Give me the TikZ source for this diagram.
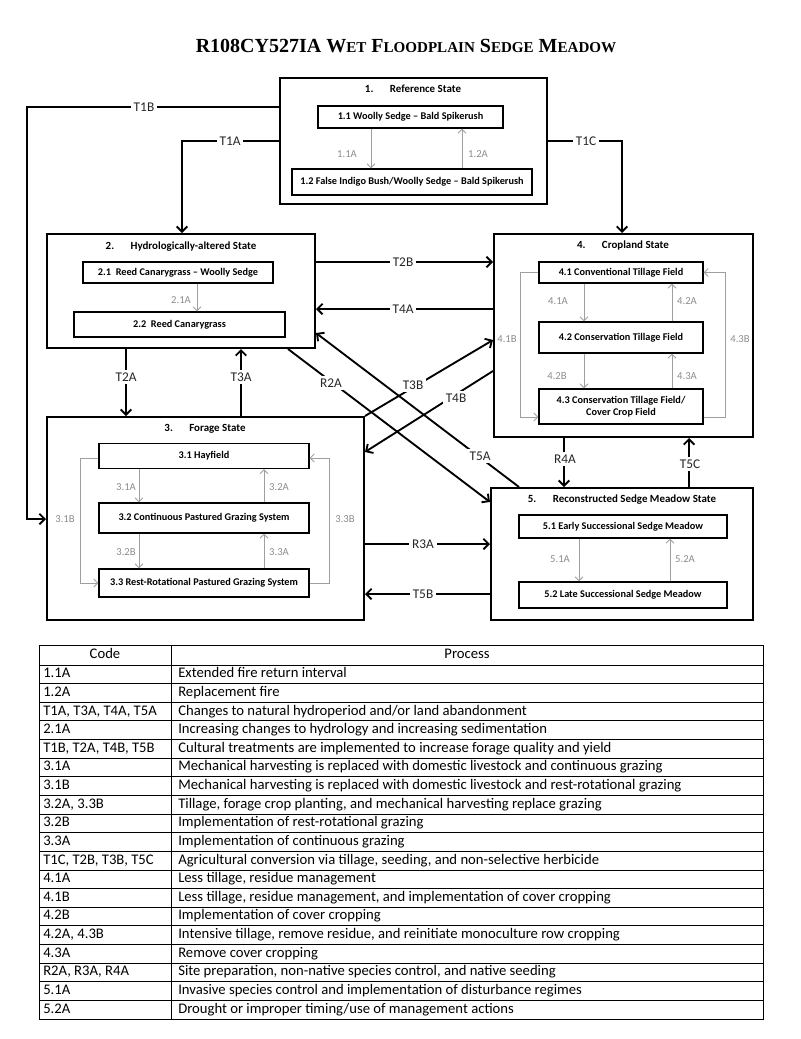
\documentclass[tikz,border=0pt]{standalone}
\usepackage{fontspec}
\setmainfont{Carlito}
\newfontfamily\titlefont{Liberation Serif}
\usetikzlibrary{arrows.meta}
\newcommand{\pxu}{0.75pt}
\newcommand{\smc}[1]{{\fontsize{11.3}{13}\selectfont #1}}
\newcommand{\stbox}[5]{\node[statebox,minimum width=#4*\pxu,minimum height=#5*\pxu] (#1) at (#2,#3) {};}
\newcommand{\subbox}[6]{\node[subbox,minimum width=#4*\pxu,minimum height=#5*\pxu] (#1) at (#2,#3) {#6};}
\tikzset{
  statebox/.style={draw,line width=1.5pt,inner sep=0pt},
  subbox/.style={draw,line width=1pt,inner sep=1pt,align=center,font=\fontsize{7.7}{9}\selectfont\bfseries},
  sttitle/.style={inner sep=0pt,font=\fontsize{8.2}{10}\selectfont\bfseries},
  trans/.style={line width=1.4pt,-{Straight Barb[length=4pt,width=8pt]}},
  inarrow/.style={gray!75,line width=0.6pt,-{Straight Barb[length=3pt,width=6pt]}},
  tlabel/.style={fill=white,inner sep=2pt,font=\fontsize{10}{12}\selectfont,text=black!85},
  ilabel/.style={inner sep=1pt,font=\fontsize{8}{10}\selectfont,text=gray!90},
  cell/.style={anchor=west,inner sep=0pt,text height=7.6pt,text depth=2.4pt,font=\fontsize{11}{13}\selectfont}
}

\begin{document}
\begin{tikzpicture}[x=0.75pt,y=-0.75pt]
    \useasboundingbox (0,0) rectangle (800,1039);
    \node (title) at (406,46) {\titlefont\bfseries\fontsize{15}{18}\selectfont R108CY527IA W\smc{ET} F\smc{LOODPLAIN} S\smc{EDGE} M\smc{EADOW}};

      \stbox{s1}{413.5}{141}{267}{126}
      \stbox{s2}{181}{291}{268}{114}
      \stbox{s3}{205.5}{518.5}{317}{203}
      \stbox{s4}{623.5}{335.5}{259}{203}
      \stbox{s5}{622}{554}{262}{132}

      \node[sttitle] (t1) at (413,89) {1.\hspace{1.5em}Reference State};
      \node[sttitle] (t2) at (181,247) {2.\hspace{1.5em}Hydrologically-altered State};
      \node[sttitle] (t3) at (205,429) {3.\hspace{1.5em}Forage State};
      \node[sttitle] (t4) at (623,246) {4.\hspace{1.5em}Cropland State};
      \node[sttitle] (t5) at (622,500) {5.\hspace{1.5em}Reconstructed Sedge Meadow State};

      \subbox{s11}{410.5}{117}{185}{22}{1.1 Woolly Sedge -- Bald Spikerush}
      \subbox{s12}{412}{182}{240}{26}{1.2 False Indigo Bush/Woolly Sedge -- Bald Spikerush}
      \subbox{s21}{178}{272.5}{190}{21}{2.1\ \ Reed Canarygrass -- Woolly Sedge}
      \subbox{s22}{179.5}{324.5}{211}{25}{2.2\ \ Reed Canarygrass}
      \subbox{s31}{204}{456}{210}{25}{3.1 Hayfield}
      \subbox{s32}{204}{518}{210}{30}{3.2 Continuous Pastured Grazing System}
      \subbox{s33}{204}{583}{210}{28}{3.3 Rest-Rotational Pastured Grazing System}
      \subbox{s41}{621}{272.5}{164}{21}{4.1 Conventional Tillage Field}
      \subbox{s42}{621}{337.5}{164}{31}{4.2 Conservation Tillage Field}
      \subbox{s43}{621}{406.5}{164}{35}{4.3 Conservation Tillage Field/\\Cover Crop Field}
      \subbox{s51}{623}{526.5}{208}{23}{5.1 Early Successional Sedge Meadow}
      \subbox{s52}{623}{595}{208}{26}{5.2 Late Successional Sedge Meadow}

      \draw[inarrow] (s11.south -| 371,0) -- (s12.north -| 371,0);
      \draw[inarrow] (s12.north -| 462,0) -- (s11.south -| 462,0);
      \draw[inarrow] (s21.south -| 197,0) -- (s22.north -| 197,0);
      \draw[inarrow] (s31.south -| 139,0) -- (s32.north -| 139,0);
      \draw[inarrow] (s32.north -| 264,0) -- (s31.south -| 264,0);
      \draw[inarrow] (s32.south -| 139,0) -- (s33.north -| 139,0);
      \draw[inarrow] (s33.north -| 264,0) -- (s32.south -| 264,0);
      \draw[inarrow] (s31.west |- 0,458) -| (80,583) -- (s33.west |- 0,583);
      \draw[inarrow] (s33.east |- 0,583) -| (329,458) -- (s31.east |- 0,458);
      \draw[inarrow] (s41.south -| 584,0) -- (s42.north -| 584,0);
      \draw[inarrow] (s42.north -| 672,0) -- (s41.south -| 672,0);
      \draw[inarrow] (s42.south -| 584,0) -- (s43.north -| 584,0);
      \draw[inarrow] (s43.north -| 672,0) -- (s42.south -| 672,0);
      \draw[inarrow] (s41.west) -| (520,417) -- (s43.west |- 0,417);
      \draw[inarrow] (s43.east |- 0,417) -| (725,272.5) -- (s41.east);
      \draw[inarrow] (s51.south -| 579,0) -- (s52.north -| 579,0);
      \draw[inarrow] (s52.north -| 670,0) -- (s51.south -| 670,0);

      \node[ilabel] at (347,154) {1.1A};
      \node[ilabel] at (478,154) {1.2A};
      \node[ilabel] at (181,300) {2.1A};
      \node[ilabel] at (126,487) {3.1A};
      \node[ilabel] at (279,487) {3.2A};
      \node[ilabel] at (126,552) {3.2B};
      \node[ilabel] at (279,552) {3.3A};
      \node[ilabel] at (65,519) {3.1B};
      \node[ilabel] at (345,519) {3.3B};
      \node[ilabel] at (558,301) {4.1A};
      \node[ilabel] at (687,301) {4.2A};
      \node[ilabel] at (557,376) {4.2B};
      \node[ilabel] at (687,376) {4.3A};
      \node[ilabel] at (507,339) {4.1B};
      \node[ilabel] at (740,339) {4.3B};
      \node[ilabel] at (560,559) {5.1A};
      \node[ilabel] at (685,559) {5.2A};

      \draw[trans] (s1.west |- 0,107) -| (27,519) -- (s3.west |- 0,519);
      \draw[trans] (s1.west |- 0,141) -| (s2.north -| 182,0);
      \draw[trans] (s1.east |- 0,141) -| (s4.north -| 622,0);
      \draw[trans] (s2.east |- 0,262) -- (s4.west |- 0,262);
      \draw[trans] (s4.west |- 0,309) -- (s2.east |- 0,309);
      \draw[trans] (s2.south -| 126,0) -- (s3.north -| 126,0);
      \draw[trans] (s3.north -| 241,0) -- (s2.south -| 241,0);
      \draw[trans] (s2.south -| 288,0) -- (s5.west |- 0,502);
      \draw[trans] (s5.north -| 519,0) -- (s2.east |- 0,333);
      \draw[trans] (s3.north east) -- (s4.west |- 0,340);
      \draw[trans] (s4.west |- 0,371) -- (s3.east |- 0,452);
      \draw[trans] (s4.south -| 564,0) -- (s5.north -| 564,0);
      \draw[trans] (s5.north -| 689,0) -- (s4.south -| 689,0);
      \draw[trans] (s3.east |- 0,544) -- (s5.west |- 0,544);
      \draw[trans] (s5.west |- 0,594) -- (s3.east |- 0,594);

      \node[tlabel] at (144,107) {T1B};
      \node[tlabel] at (230,141) {T1A};
      \node[tlabel] at (586,141) {T1C};
      \node[tlabel] at (403,262) {T2B};
      \node[tlabel] at (403,309) {T4A};
      \node[tlabel] at (126,377) {T2A};
      \node[tlabel] at (241,377) {T3A};
      \node[tlabel] at (331,383) {R2A};
      \node[tlabel] at (413,385) {T3B};
      \node[tlabel] at (456,398) {T4B};
      \node[tlabel] at (480,456) {T5A};
      \node[tlabel] at (565,459) {R4A};
      \node[tlabel] at (690,464) {T5C};
      \node[tlabel] at (423,544) {R3A};
      \node[tlabel] at (423,594) {T5B};

      \draw[line width=0.6pt] (39,645) rectangle (763,1019);
      \draw[line width=0.6pt] (171,645) -- (171,1019);
      \foreach \i in {0,...,18}
        \draw[line width=0.6pt] (39,{665+\i*18.63}) -- (763,{665+\i*18.63});
      \node[cell,anchor=center] at (105,655) {Code};
      \node[cell,anchor=center] at (467,655) {Process};
      \foreach \c/\p [count=\i] in {
        {1.1A}/{Extended fire return interval},
        {1.2A}/{Replacement fire},
        {T1A, T3A, T4A, T5A}/{Changes to natural hydroperiod and/or land abandonment},
        {2.1A}/{Increasing changes to hydrology and increasing sedimentation},
        {T1B, T2A, T4B, T5B}/{Cultural treatments are implemented to increase forage quality and yield},
        {3.1A}/{Mechanical harvesting is replaced with domestic livestock and continuous grazing},
        {3.1B}/{Mechanical harvesting is replaced with domestic livestock and rest-rotational grazing},
        {3.2A, 3.3B}/{Tillage, forage crop planting, and mechanical harvesting replace grazing},
        {3.2B}/{Implementation of rest-rotational grazing},
        {3.3A}/{Implementation of continuous grazing},
        {T1C, T2B, T3B, T5C}/{Agricultural conversion via tillage, seeding, and non-selective herbicide},
        {4.1A}/{Less tillage, residue management},
        {4.1B}/{Less tillage, residue management, and implementation of cover cropping},
        {4.2B}/{Implementation of cover cropping},
        {4.2A, 4.3B}/{Intensive tillage, remove residue, and reinitiate monoculture row cropping},
        {4.3A}/{Remove cover cropping},
        {R2A, R3A, R4A}/{Site preparation, non-native species control, and native seeding},
        {5.1A}/{Invasive species control and implementation of disturbance regimes},
        {5.2A}/{Drought or improper timing/use of management actions}}{
        \node[cell] at (43,{665+(\i-0.5)*18.63}) {\c};
        \node[cell] at (178,{665+(\i-0.5)*18.63}) {\p};
      }
  \end{tikzpicture}
\end{document}
